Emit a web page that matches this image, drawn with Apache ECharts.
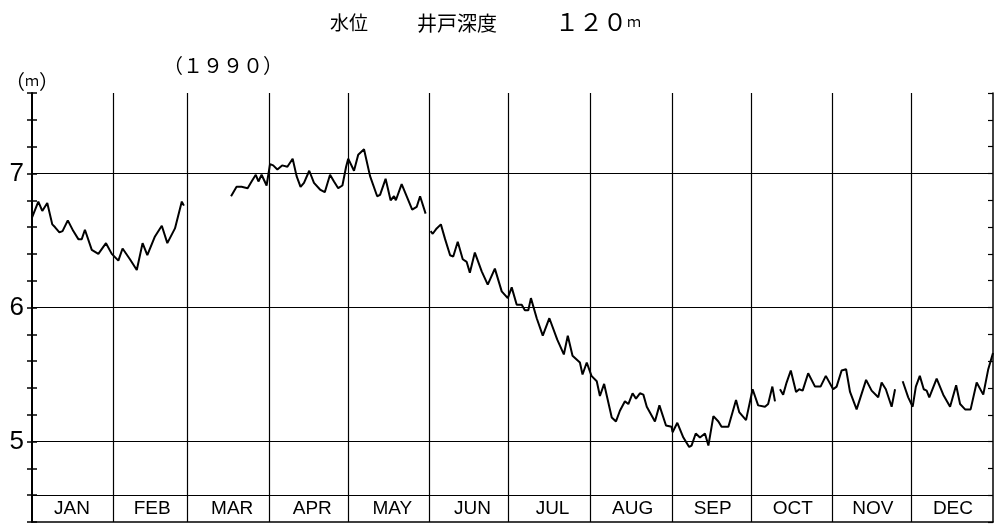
<!DOCTYPE html>
<html>
<head>
<meta charset="utf-8">
<script src="https://cdn.jsdelivr.net/npm/echarts@6/dist/echarts.min.js"></script>
<style>
  html, body { margin: 0; padding: 0; background: #fff; }
  #chart { width: 995px; height: 524px; }
</style>
</head>
<body>
<div id="chart"></div>
<script>
// month names on the bottom strip
const months = ['JAN', 'FEB', 'MAR', 'APR', 'MAY', 'JUN', 'JUL', 'AUG', 'SEP', 'OCT', 'NOV', 'DEC'];
// day-of-year where each month (after Jan) starts
const monthStarts = [31, 59, 90, 120, 151, 181, 212, 243, 273, 304, 334];
// horizontal rules (m)
const gridLevels = [4.6, 5, 6, 7];

// water level readings, day of year 1990 -> level (m); null = no record
const days = [
  0, 2.4, 3.9, 5.8, 7.7, 8.7, 10.4, 11.6, 13.6, 15.7, 17.6, 18.9, 20.1, 22.7, 25.2, 28.1, 30.3,
  32.8, 34.4, 37.2, 39.8, 42, 43.8, 46.7, 49.3, 51.4, 54.3, 56.9, 57.7,
  66,
  75.6, 77.7, 79.6, 81.9, 83.4, 85, 86, 87.2, 89.1, 90.4, 91.6, 93.2, 95, 97, 99, 100.5, 102,
  103.3, 105.3, 107.1, 109.4, 111.2, 113.2, 114.7, 116.3, 117.9, 119.3, 120.1, 122.3, 123.9,
  126.1, 128.4, 131.1, 132.2, 134.3, 136.2, 137.5, 138.2, 140.4, 144.4, 146.1, 147.4, 149.5,
  150.5,
  151.4, 152.2, 153.7, 155.3, 156.9, 158.8, 160, 161.7, 163.6, 165.1, 166.3, 168.2, 170.8, 173.1,
  175.8, 178.4, 180.7, 182.2, 184.1, 186, 187.2, 188.5, 189.5, 191.7, 194, 196.5, 199.5, 202,
  203.5, 205.3, 208.1, 209.1, 210.7, 212.5, 214.5, 215.7, 217.3, 220.2, 221.8, 223.3, 225.2,
  226.5, 228.1, 229.4, 230.9, 232.2, 233.5, 236.6, 238.3, 240.8, 242.9, 243.3, 245.1, 247.4,
  249.6, 250.5, 252.1, 253.7, 255.6, 256.9, 258.8, 260.7, 261.9, 264.5, 267.4, 268.6, 271.2,
  273.7, 275.8, 278.4, 279.6, 281.2, 282.2,
  283.1,
  284.1, 285.3, 286.6, 288.2, 290.2, 291.4, 292.7, 294.8, 297.4, 299.5, 301.5, 304.3, 305.6,
  307.5, 309.2, 310.7, 313.2, 316.8, 318.9, 321.4, 322.7, 324.3, 326.5, 327.8,
  329.2,
  330.7, 332.8, 334.5, 335.7, 337.2, 338.7, 339.8, 340.8, 343.6, 346.1, 348.7, 351, 352.5,
  354.4, 356.5, 358.8, 361.3, 363.2, 365
];
const levels = [
  6.67, 6.79, 6.72, 6.78, 6.62, 6.60, 6.56, 6.57, 6.65, 6.57, 6.51, 6.51, 6.58, 6.43, 6.40, 6.48, 6.40,
  6.35, 6.44, 6.36, 6.28, 6.48, 6.39, 6.53, 6.61, 6.48, 6.59, 6.79, 6.76,
  null,
  6.83, 6.90, 6.90, 6.89, 6.94, 6.99, 6.94, 6.99, 6.91, 7.07, 7.06, 7.03, 7.06, 7.05, 7.11, 6.98, 6.90,
  6.93, 7.02, 6.93, 6.88, 6.86, 6.99, 6.94, 6.89, 6.91, 7.05, 7.11, 7.02, 7.14,
  7.18, 6.98, 6.83, 6.84, 6.96, 6.80, 6.83, 6.80, 6.92, 6.73, 6.75, 6.83, 6.70,
  null,
  6.57, 6.55, 6.59, 6.62, 6.51, 6.39, 6.38, 6.49, 6.36, 6.34, 6.26, 6.41, 6.27, 6.17,
  6.29, 6.12, 6.07, 6.15, 6.02, 6.02, 5.98, 5.98, 6.07, 5.92, 5.79, 5.92, 5.76, 5.65,
  5.79, 5.64, 5.59, 5.50, 5.59, 5.49, 5.45, 5.34, 5.43, 5.18, 5.15, 5.23, 5.30,
  5.28, 5.36, 5.32, 5.36, 5.35, 5.26, 5.15, 5.27, 5.12, 5.11, 5.07, 5.14, 5.03,
  4.96, 4.97, 5.06, 5.03, 5.06, 4.97, 5.19, 5.15, 5.11, 5.11, 5.31, 5.22, 5.16,
  5.39, 5.27, 5.26, 5.28, 5.41, 5.30,
  null,
  5.39, 5.35, 5.44, 5.53, 5.37, 5.39, 5.38, 5.51, 5.41, 5.41, 5.49, 5.39, 5.41,
  5.53, 5.54, 5.37, 5.24, 5.46, 5.38, 5.33, 5.44, 5.39, 5.26, 5.39,
  null,
  5.45, 5.33, 5.26, 5.41, 5.49, 5.39, 5.38, 5.33, 5.47, 5.35, 5.26, 5.42, 5.28,
  5.24, 5.24, 5.44, 5.35, 5.54, 5.66
];

const chart = echarts.init(document.getElementById('chart'));

const lineData = days.map((d, i) => [d, levels[i] === null ? '-' : levels[i]]);

const cjk = 'Noto Sans CJK JP';
const black = '#000';

const option = {
  backgroundColor: '#fff',
  animation: false,
  title: [
    { text: '水位', left: 325, top: 8, textStyle: { fontFamily: cjk, fontSize: 19, fontWeight: 'normal', color: black } },
    { text: '井戸深度', left: 412, top: 8, textStyle: { fontFamily: cjk, fontSize: 20, fontWeight: 'normal', color: black } },
    {
      text: '{d|１２０}{m|ｍ}', left: 550, top: 5,
      textStyle: {
        fontWeight: 'normal',
        rich: {
          d: { fontFamily: cjk, fontSize: 24, fontWeight: 'normal', color: black },
          m: { fontFamily: cjk, fontSize: 14, fontWeight: 'normal', color: black }
        }
      }
    },
    { text: '（１９９０）', left: 158, top: 50, textStyle: { fontFamily: cjk, fontSize: 20, fontWeight: 'normal', color: black } },
    {
      text: '{p|（}{m|ｍ}{p|）}', left: 0, top: 66,
      textStyle: {
        fontWeight: 'normal',
        rich: {
          p: { fontFamily: cjk, fontSize: 20, fontWeight: 'normal', color: black },
          m: { fontFamily: cjk, fontSize: 14, fontWeight: 'normal', color: black }
        }
      }
    }
  ],
  grid: { left: 32, right: 2, top: 93, bottom: 2 },
  xAxis: [
    {
      type: 'value', min: 0, max: 365,
      axisLine: { show: true, lineStyle: { color: black, width: 1.5 } },
      axisTick: { show: false },
      axisLabel: { show: false },
      splitLine: { show: false }
    },
    {
      type: 'category', data: months, position: 'bottom',
      axisLine: { show: false },
      axisTick: { show: false },
      splitLine: { show: false },
      axisLabel: { inside: true, margin: 4, fontFamily: 'Liberation Sans', fontSize: 19, color: black }
    }
  ],
  yAxis: [
    {
      type: 'value', min: 4.4, max: 7.6, interval: 0.2, position: 'left',
      axisLine: { show: true, lineStyle: { color: black, width: 2 } },
      axisTick: { show: true, length: 5, lineStyle: { color: black, width: 1.5 } },
      axisLabel: {
        margin: 8, fontFamily: 'Liberation Sans', fontSize: 26, color: black,
        formatter: (v) => Math.abs(v - Math.round(v)) < 1e-6 ? String(Math.round(v)) : ''
      },
      splitLine: { show: false }
    },
    {
      type: 'value', min: 4.4, max: 7.6, interval: 0.2, position: 'left',
      axisLine: { show: false },
      axisTick: { show: true, inside: true, length: 5, lineStyle: { color: black, width: 1.5 } },
      axisLabel: { show: false },
      splitLine: { show: false }
    },
    {
      type: 'value', min: 4.4, max: 7.6, interval: 0.2, position: 'right',
      axisLine: { show: true, lineStyle: { color: black, width: 1.5 } },
      axisTick: { show: true, inside: true, length: 5, lineStyle: { color: black, width: 1.2 } },
      axisLabel: { show: false },
      splitLine: { show: false }
    }
  ],
  series: [
    {
      type: 'line',
      xAxisIndex: 0,
      yAxisIndex: 0,
      data: lineData,
      showSymbol: false,
      connectNulls: false,
      lineStyle: { color: black, width: 2 },
      markLine: {
        silent: true,
        symbol: 'none',
        label: { show: false },
        lineStyle: { color: black, width: 1.2, type: 'solid' },
        data: [
          ...gridLevels.map(v => ({ yAxis: v })),
          ...monthStarts.map(d => ({ xAxis: d }))
        ]
      }
    }
  ]
};

chart.setOption(option);
</script>
</body>
</html>
